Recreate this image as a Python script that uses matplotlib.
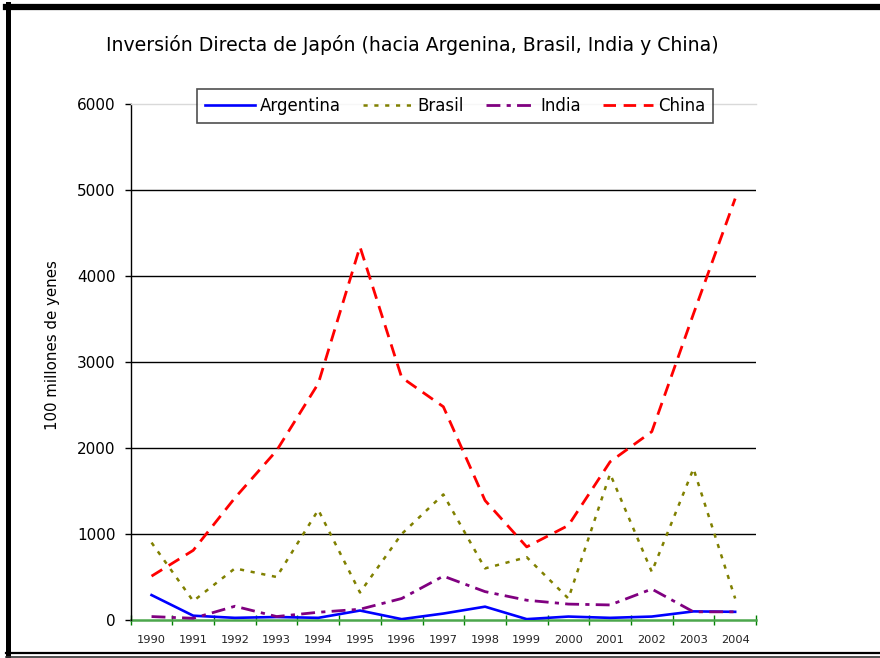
import matplotlib
matplotlib.use('Agg')
import matplotlib.pyplot as plt
from matplotlib.lines import Line2D
import numpy as np

years = [str(y) for y in range(1990, 2005)]
argentina = [290, 50, 25, 35, 25, 110, 10, 75, 155, 10, 40, 25, 40, 100, 95]
brasil = [900, 220, 600, 500, 1280, 320, 1000, 1460, 600, 730, 250, 1700, 560, 1760, 250]
india = [40, 20, 160, 40, 90, 125, 250, 510, 330, 230, 185, 175, 360, 95, 95]
china = [510, 810, 1420, 1970, 2750, 4340, 2820, 2480, 1390, 850, 1100, 1840, 2190, 3560, 4900]
yticks = [0, 1000, 2000, 3000, 4000, 5000, 6000]

series_names = ['Argentina', 'Brasil', 'India', 'China']

plt.rcParams['lines.scale_dashes'] = False
plt.rcParams['font.family'] = ['DejaVu Sans']

W, H = 880, 658
fig = plt.figure(figsize=(W / 100, H / 100), dpi=100)

def fx(px):
    return px / W

def fy(py):
    return 1 - py / H

ax = fig.add_axes([fx(130.7), fy(620), fx(756) - fx(130.7), fy(104) - fy(620)])
x = np.arange(len(years))

ax.plot(x, argentina, color='#0000FF', lw=1.9, solid_joinstyle='round', label=series_names[0], zorder=3)
ax.plot(x, brasil, color='#808000', lw=1.8, linestyle=(0, (3, 4.8)), label=series_names[1], zorder=4)
ax.plot(x, india, color='#800080', lw=2.0, linestyle=(0, (10, 4.5, 3, 4.5)), label=series_names[2], zorder=5)
ax.plot(x, china, color='#FF0000', lw=2.0, linestyle=(0, (9, 5.5)), label=series_names[3], zorder=6)

ax.set_xlim(-0.5, len(years) - 0.5)
ax.set_ylim(0, 6000)

for v in yticks[1:-1]:
    ax.axhline(v, color='black', lw=1.0, zorder=1)

ax.spines['right'].set_visible(False)
ax.spines['top'].set_color('#d9d9d9')
ax.spines['top'].set_linewidth(1.0)
ax.spines['left'].set_color('black')
ax.spines['left'].set_linewidth(1.0)
ax.spines['bottom'].set_color('#4ca64c')
ax.spines['bottom'].set_linewidth(1.8)
ax.spines['bottom'].set_zorder(2)

ax.set_yticks(yticks)
ax.set_yticklabels([str(v) for v in yticks])
ax.tick_params(axis='y', direction='out', length=4.5, width=1, color='black',
               labelsize=11, pad=6.5, labelcolor='black')

ax.set_xticks(x)
ax.set_xticklabels(years)
ax.tick_params(axis='x', which='major', length=0, labelsize=8.2, pad=11, labelcolor='#222222')
ax.set_xticks(np.arange(-0.5, len(years), 1.0), minor=True)
ax.tick_params(axis='x', which='minor', direction='inout', length=7.5, width=1, color='#008000')

fig.text(fx(412), fy(45), 'Inversión Directa de Japón (hacia Argenina, Brasil, India y China)',
         ha='center', va='center', fontsize=13.6, color='black')
fig.text(fx(53), fy(345), '100 millones de yenes', rotation=90, ha='center', va='center',
         fontsize=10.8, color='black')

leg = ax.legend(loc='center', bbox_to_anchor=(fx(455), fy(106)), bbox_transform=fig.transFigure,
                ncol=4, frameon=True, fancybox=False, fontsize=12, handlelength=3.0,
                handletextpad=0.3, columnspacing=1.3, borderpad=0.5)
leg.get_frame().set_edgecolor('#222222')
leg.get_frame().set_linewidth(1.2)
leg.set_zorder(10)

# Figure border
fig.add_artist(Line2D([fx(6), fx(880)], [fy(7), fy(7)], transform=fig.transFigure, color='black', lw=4.5))
fig.add_artist(Line2D([fx(7.5), fx(7.5)], [fy(4), fy(655)], transform=fig.transFigure, color='black', lw=3.6))
fig.add_artist(Line2D([fx(6), fx(880)], [fy(653), fy(653)], transform=fig.transFigure, color='black', lw=1.6))
fig.add_artist(Line2D([fx(6), fx(880)], [fy(656.5), fy(656.5)], transform=fig.transFigure, color='#333333', lw=1.2))

fig.savefig('out.png', dpi=100)
